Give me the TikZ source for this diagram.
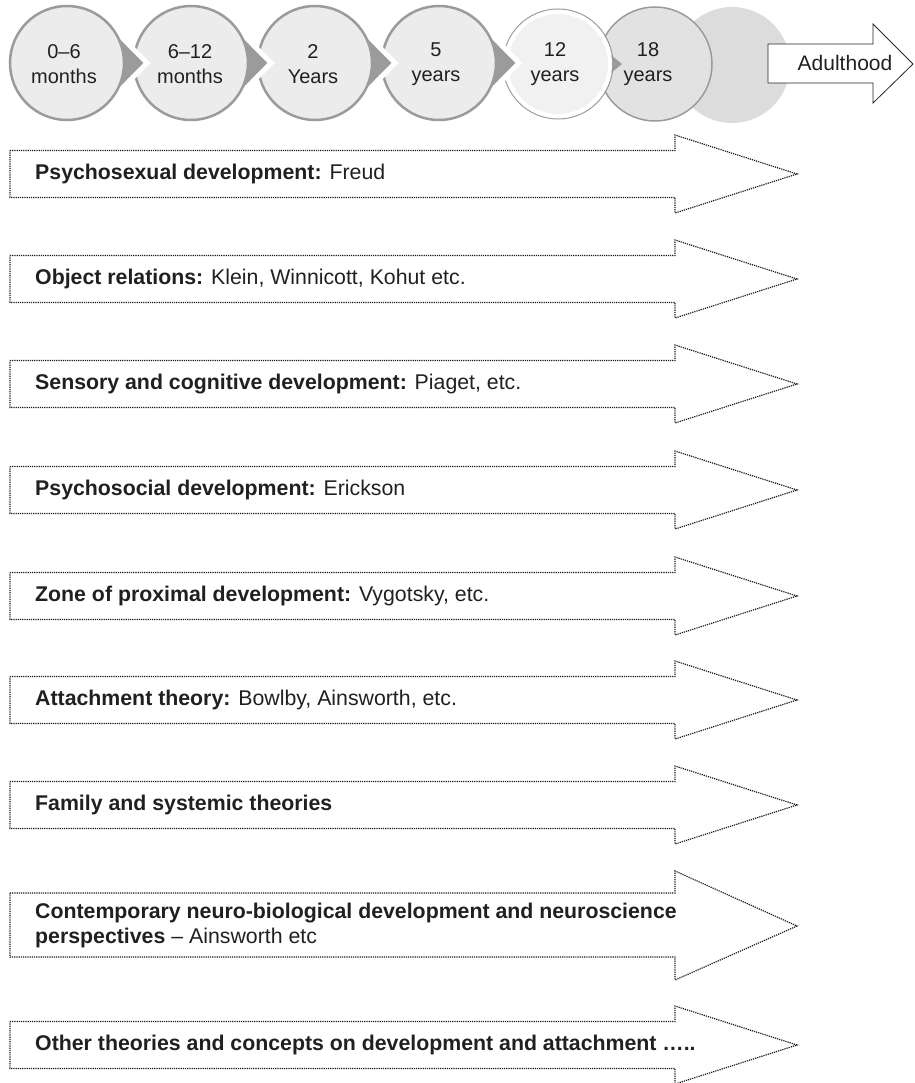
\documentclass[tikz,border=0pt]{standalone}
\usepackage{fontspec}
\setmainfont{Liberation Sans}
\usetikzlibrary{positioning}

\definecolor{bubblefill}{HTML}{ECECEC}
\definecolor{bubbleline}{HTML}{9B9B9B}
\definecolor{teenfill}{HTML}{F1F1F2}
\definecolor{adultfill}{HTML}{E2E2E2}
\definecolor{lastfill}{HTML}{DCDCDC}
\definecolor{inktext}{HTML}{231F20}

\tikzset{
  agetext/.style={align=center, font=\fontsize{20}{25}\selectfont, text=inktext, inner sep=0pt},
  theorytext/.style={anchor=west, align=left, font=\fontsize{21.3}{25}\selectfont, text=inktext, inner sep=0pt},
  theoryline/.style={draw=black!90, densely dotted, line width=1.2pt},
  halo/.style={draw=white, line width=5pt, fill=bubbleline},
  bubble/.style={draw=bubbleline, line width=2.5pt, fill=bubblefill},
}

\begin{document}
\begin{tikzpicture}[x=1pt,y=-1pt]
    \useasboundingbox (0,0) rectangle (914,1083);

    % Age bubbles, drawn from the right so each pointer lies on the next bubble
    \fill[lastfill] (732,65) circle (58);
    \draw[draw=bubbleline, line width=1.5pt, fill=adultfill] (655,64) circle (57);
    \fill[bubbleline] (600,46) -- (622,64) -- (600,82) -- cycle;
    \draw[draw=bubbleline, line width=1pt] (558,64) circle (55);
    \draw[draw=white, line width=4pt, fill=teenfill] (558,64) circle (52);

    \foreach \cx in {439,315,191,67} {
        \draw[halo] (\cx,63) ++(44.6:57) arc[start angle=44.6, end angle=315.4, radius=57] -- (\cx+80,63) -- cycle;
        \draw[bubble] (\cx,63) circle (57);
    }

    % Age labels
    \node[agetext] (m0)  at (64,64)  {0--6\\months};
    \node[agetext] (m6)  at (190,64) {6--12\\months};
    \node[agetext] (y2)  at (313,64) {2\\Years};
    \node[agetext] (y5)  at (436,64) {5\\years};
    \node[agetext] (y12) at (555,64) {12\\years};
    \node[agetext] (y18) at (648,64) {18\\years};

    % Adulthood arrow
    \draw[black!85, line width=0.8pt, fill=white] (768,44) -- (873,44) -- (873,24) -- (913,64) -- (873,103) -- (873,83) -- (768,83) -- cycle;
    \node[agetext, font=\fontsize{21}{25}\selectfont] (adult) at (845,63) {Adulthood};

    % Theory arrows (one row each)
    \foreach \ry in {174,279,384,490,596,700,805,1045}
        \draw[theoryline] (10,\ry-23.5) -- (675,\ry-23.5) -- (675,\ry-39) -- (797,\ry) -- (675,\ry+39) -- (675,\ry+23.5) -- (10,\ry+23.5) -- cycle;
    \draw[theoryline] (10,893) -- (675,893) -- (675,871) -- (797,926) -- (675,980) -- (675,957) -- (10,957) -- cycle;

    % Theory labels
    \node[theorytext] (psysex) at (35,174) {\textbf{Psychosexual development:} Freud};
    \node[theorytext] (objrel) at (35,279) {\textbf{Object relations:} Klein, Winnicott, Kohut etc.};
    \node[theorytext] (sensory) at (35,384) {\textbf{Sensory and cognitive development:} Piaget, etc.};
    \node[theorytext] (psysoc) at (35,490) {\textbf{Psychosocial development:} Erickson};
    \node[theorytext] (zone) at (35,596) {\textbf{Zone of proximal development:} Vygotsky, etc.};
    \node[theorytext] (attach) at (35,700) {\textbf{Attachment theory:} Bowlby, Ainsworth, etc.};
    \node[theorytext] (family) at (35,805) {\textbf{Family and systemic theories}};
    \node[theorytext] (neuro) at (35,925) {\textbf{Contemporary neuro-biological development and neuroscience}\\\textbf{perspectives} -- Ainsworth etc};
    \node[theorytext] (other) at (35,1045) {\textbf{Other theories and concepts on development and attachment …..}};
\end{tikzpicture}
\end{document}
